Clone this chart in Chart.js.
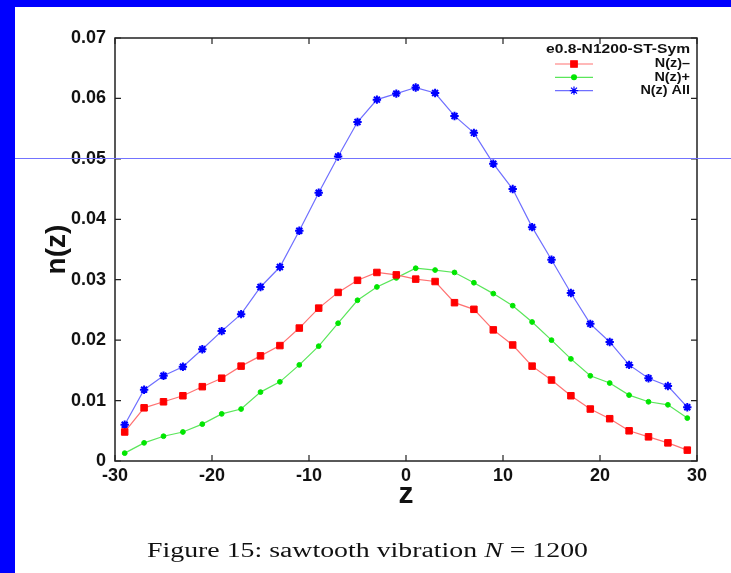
<!DOCTYPE html>
<html>
<head>
<meta charset="utf-8">
<script src="https://cdn.jsdelivr.net/npm/chart.js@4.4.0/dist/chart.umd.min.js"></script>
<style>
    html, body { margin: 0; padding: 0; background: #fff; }
    body { width: 731px; height: 573px; position: relative; overflow: hidden; }
    #topBar { position: absolute; left: 0; top: 0; width: 731px; height: 7px; background: #0000ff; }
    #leftBar { position: absolute; left: 0; top: 0; width: 15px; height: 573px; background: #0000ff; }
    #wrap { position: absolute; left: 0; top: 0; width: 731px; height: 573px; }
    #scanLine { position: absolute; left: 15px; top: 158px; width: 716px; height: 1px; background: #7373ff; }
    #caption {
        position: absolute; left: 147px; top: 540px; white-space: nowrap;
        font-family: "Liberation Serif", serif; font-size: 20px; line-height: 20px;
        color: #111; transform-origin: 0 0;
    }
</style>
</head>
<body>
<div id="topBar"></div>
<div id="leftBar"></div>
<div id="wrap"><canvas id="densityChart" width="731" height="573"></canvas></div>
<div id="scanLine"></div>
<div id="caption">Figure 15: sawtooth vibration <i>N</i> = 1200</div>
<script>
// Profile data
const zValues = [-29, -27, -25, -23, -21, -19, -17, -15, -13, -11, -9, -7, -5, -3, -1,
                 1, 3, 5, 7, 9, 11, 13, 15, 17, 19, 21, 23, 25, 27, 29];
const nMinus = [0.0048, 0.0088, 0.0098, 0.0108, 0.0123, 0.0137, 0.0157, 0.0174, 0.0191, 0.0220,
                0.0253, 0.0279, 0.0299, 0.0312, 0.0308, 0.0301, 0.0297, 0.0262, 0.0251, 0.0217,
                0.0192, 0.0157, 0.0134, 0.0108, 0.0086, 0.0070, 0.0050, 0.0040, 0.0030, 0.0018];
const nPlus = [0.0013, 0.0030, 0.0041, 0.0048, 0.0061, 0.0078, 0.0086, 0.0114, 0.0131, 0.0159,
               0.0190, 0.0228, 0.0266, 0.0288, 0.0303, 0.0319, 0.0316, 0.0312, 0.0295, 0.0277,
               0.0257, 0.0230, 0.0200, 0.0169, 0.0141, 0.0129, 0.0109, 0.0098, 0.0093, 0.0071];
const nAll = [0.0060, 0.0118, 0.0141, 0.0156, 0.0185, 0.0215, 0.0243, 0.0288, 0.0321, 0.0381,
              0.0444, 0.0504, 0.0561, 0.0598, 0.0608, 0.0618, 0.0609, 0.0571, 0.0543, 0.0492,
              0.0450, 0.0387, 0.0333, 0.0278, 0.0227, 0.0197, 0.0159, 0.0137, 0.0124, 0.0089];
const xTicks = [-30, -20, -10, 0, 10, 20, 30];
const yTicks = [0, 0.01, 0.02, 0.03, 0.04, 0.05, 0.06, 0.07];
const legendTitle = 'e0.8-N1200-ST-Sym';

function toPoints(values) {
    return zValues.map((z, i) => ({ x: z, y: values[i] }));
}

// gnuplot style frame with inward ticks on all four sides
const frameTicks = {
    id: 'frameTicks',
    beforeDatasetsDraw(chart) {
        const { ctx, chartArea: a, scales } = chart;
        ctx.save();
        ctx.strokeStyle = '#222';
        ctx.lineWidth = 1.5;
        ctx.strokeRect(a.left, a.top, a.right - a.left, a.bottom - a.top);
        ctx.lineWidth = 1.2;
        ctx.beginPath();
        xTicks.forEach(v => {
            const px = scales.x.getPixelForValue(v);
            ctx.moveTo(px, a.bottom); ctx.lineTo(px, a.bottom - 6);
            ctx.moveTo(px, a.top); ctx.lineTo(px, a.top + 6);
        });
        yTicks.forEach(v => {
            const py = scales.y.getPixelForValue(v);
            ctx.moveTo(a.left, py); ctx.lineTo(a.left + 6, py);
            ctx.moveTo(a.right, py); ctx.lineTo(a.right - 6, py);
        });
        ctx.stroke();
        ctx.restore();
    }
};

// legend in the top right corner, labels right aligned
const keyBox = {
    id: 'keyBox',
    afterDraw(chart) {
        const ctx = chart.ctx;
        const textRight = 690;
        ctx.save();
        ctx.fillStyle = '#111';
        ctx.font = 'bold 12px "Liberation Sans", Arial, sans-serif';
        ctx.textAlign = 'right';
        ctx.textBaseline = 'middle';
        const drawText = (txt, y, sx) => {
            ctx.save();
            ctx.translate(textRight, y);
            ctx.scale(sx, 1);
            ctx.fillText(txt, 0, 0);
            ctx.restore();
        };
        drawText(legendTitle, 50, 1.3);
        chart.data.datasets.forEach((ds, i) => {
            const y = 64 + i * 13.3;
            drawText(ds.label, y, 1.2);
            ctx.strokeStyle = ds.borderColor;
            ctx.lineWidth = 1.2;
            ctx.beginPath();
            ctx.moveTo(555, y); ctx.lineTo(593, y);
            ctx.stroke();
            ctx.fillStyle = ds.pointBackgroundColor;
            ctx.strokeStyle = ds.pointBorderColor;
            Chart.helpers.drawPoint(ctx, {
                pointStyle: ds.pointStyle, radius: ds.pointRadius,
                borderWidth: ds.pointBorderWidth, rotation: 0
            }, 574, y);
            ctx.fillStyle = '#111';
        });
        ctx.restore();
    }
};

const tickFont = { family: '"Liberation Sans", Arial, sans-serif', size: 18, weight: 'bold' };

new Chart(document.getElementById('densityChart'), {
    type: 'line',
    data: {
        datasets: [
            {
                label: 'N(z)\u2013', data: toPoints(nMinus),
                borderColor: '#ff7272', borderWidth: 1.2,
                pointStyle: 'rect', pointRadius: 4.6, pointBorderWidth: 1,
                pointBackgroundColor: '#ff0000', pointBorderColor: '#ff0000'
            },
            {
                label: 'N(z)+', data: toPoints(nPlus),
                borderColor: '#5ae65a', borderWidth: 1.2,
                pointStyle: 'circle', pointRadius: 2.4, pointBorderWidth: 1,
                pointBackgroundColor: '#00e600', pointBorderColor: '#00e600'
            },
            {
                label: 'N(z) All', data: toPoints(nAll),
                borderColor: '#6f6fff', borderWidth: 1.2,
                pointStyle: 'star', pointRadius: 4.2, pointBorderWidth: 2,
                pointBackgroundColor: '#0000ff', pointBorderColor: '#0000ff'
            }
        ]
    },
    options: {
        responsive: false,
        animation: false,
        layout: { padding: { left: 0, top: 38, right: 34, bottom: 0 } },
        plugins: { legend: { display: false }, tooltip: { enabled: false } },
        elements: { line: { tension: 0 } },
        scales: {
            x: {
                type: 'linear', min: -30, max: 30,
                afterBuildTicks: s => { s.ticks = xTicks.map(v => ({ value: v })); },
                afterFit: s => { s.height = 112; },
                grid: { display: false, drawTicks: false },
                border: { display: false },
                ticks: { font: tickFont, color: '#111', padding: 4, maxRotation: 0,
                         callback: v => String(v) },
                title: { display: true, text: 'z', color: '#111',
                         font: { family: '"Liberation Sans", Arial, sans-serif', size: 30, weight: 'bold' },
                         padding: { top: 0, bottom: 60 } }
            },
            y: {
                type: 'linear', min: 0, max: 0.07,
                afterBuildTicks: s => { s.ticks = yTicks.map(v => ({ value: v })); },
                afterFit: s => { s.width = 115; },
                grid: { display: false, drawTicks: false },
                border: { display: false },
                ticks: { font: tickFont, color: '#111', padding: 9,
                         callback: v => v === 0 ? '0' : v.toFixed(2) },
                title: { display: true, text: 'n(z)', color: '#111',
                         font: { family: '"Liberation Sans", Arial, sans-serif', size: 28, weight: 'bold' },
                         padding: { top: 40, bottom: 0 } }
            }
        }
    },
    plugins: [frameTicks, keyBox]
});

// stretch the caption to the width it has in the figure
const caption = document.getElementById('caption');
caption.style.transform = 'scaleX(' + (441 / caption.getBoundingClientRect().width) + ')';
</script>
</body>
</html>
